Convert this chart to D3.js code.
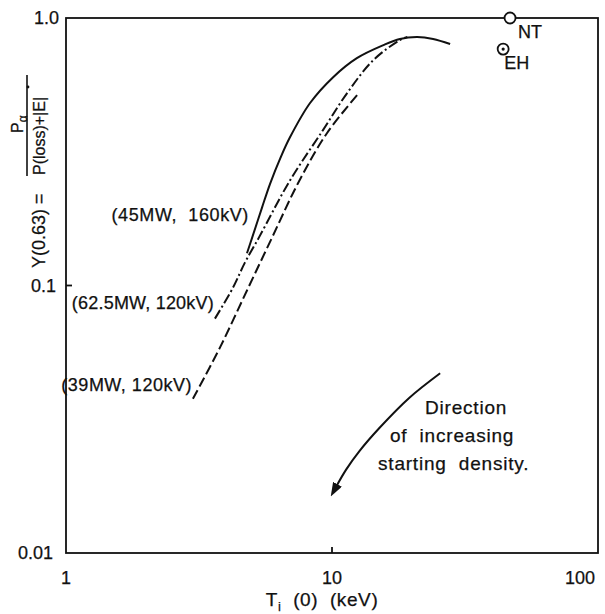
<!DOCTYPE html>
<html lang="en">
<head>
    <meta charset="UTF-8">
    <title>Y(0.63) vs Ti(0)</title>
    <script src="https://d3js.org/d3.v7.min.js"></script>
    <style>
        body { margin: 0; background: #fff; }
        svg text { font-family: "Liberation Sans", Arial, sans-serif; fill: #111; stroke: #111; stroke-width: 0.25; }
        .curve { fill: none; stroke: #111; stroke-width: 2; }
        .frame { fill: none; stroke: #111; stroke-width: 1.8; }
    </style>
</head>
<body>
    <svg width="605" height="614"></svg>
    <script>
        // data (Ti in keV, Y dimensionless)
        var solidT = [4.79, 5.01, 5.46, 5.85, 6.4, 6.95, 8.27, 10.1, 12.4, 15.6, 18.0, 20.9, 24.0, 27.8];
        var solidY = [0.132, 0.151, 0.196, 0.240, 0.300, 0.358, 0.481, 0.601, 0.708, 0.792, 0.835, 0.849, 0.835, 0.799];

        var dashDotT = [3.63, 4.24, 4.71, 5.31, 6.95, 9.25, 11.4, 14.3, 18.0, 19.2];
        var dashDotY = [0.0752, 0.098, 0.122, 0.151, 0.247, 0.381, 0.524, 0.696, 0.827, 0.85];

        var dashedT = [3.0, 3.79, 4.79, 5.95, 7.45, 9.57, 12.7];
        var dashedY = [0.0377, 0.0586, 0.0958, 0.151, 0.241, 0.371, 0.528];

        var pointNames = ["NT", "EH"];
        var pointT = [46.7, 44.0];
        var pointY = [1.0, 0.765];

        // arrow "direction of increasing starting density"
        var arrowT = [25.5, 19.5, 15.1, 12.7, 11.3, 10.4];
        var arrowY = [0.047, 0.038, 0.0294, 0.0241, 0.0205, 0.0178];

        var xTicks = [1, 10, 100];
        var xTickLabels = ["1", "10", "100"];
        var yTicks = [0.01, 0.1, 1];
        var yTickLabels = ["0.01", "0.1", "1.0"];

        var svg = d3.select("svg");
        var pLeft = 66, pRight = 598, pTop = 18, pBottom = 553;

        var x = d3.scaleLog().domain([1, 100]).range([pLeft, pRight]);
        var y = d3.scaleLog().domain([0.01, 1]).range([pBottom, pTop]);

        var zip = function (a, b) { return a.map(function (v, i) { return [v, b[i]]; }); };
        var line = d3.line()
            .x(function (d) { return x(d[0]); })
            .y(function (d) { return y(d[1]); })
            .curve(d3.curveCatmullRom.alpha(0.5));

        // frame
        svg.append("rect").attr("class", "frame")
            .attr("x", pLeft).attr("y", pTop)
            .attr("width", pRight - pLeft).attr("height", pBottom - pTop);

        // inner ticks
        svg.append("line").attr("class", "frame")
            .attr("x1", x(10)).attr("x2", x(10))
            .attr("y1", pBottom).attr("y2", pBottom - 6);
        svg.append("line").attr("class", "frame")
            .attr("x1", pLeft).attr("x2", pLeft + 6)
            .attr("y1", y(0.1)).attr("y2", y(0.1));

        // tick labels
        svg.selectAll(".xtl").data(xTicks).enter().append("text")
            .attr("class", "xtl")
            .attr("x", function (d, i) { return i === 2 ? x(d) - 18 : x(d); })
            .attr("y", 584)
            .attr("text-anchor", "middle")
            .attr("font-size", 18)
            .text(function (d, i) { return xTickLabels[i]; });

        svg.selectAll(".ytl").data(yTicks).enter().append("text")
            .attr("class", "ytl")
            .attr("x", function (d, i) { return i === 0 ? 53 : (i === 1 ? 56 : 59); })
            .attr("y", function (d) { return y(d) + 6; })
            .attr("text-anchor", "end")
            .attr("font-size", 18)
            .text(function (d, i) { return yTickLabels[i]; });

        // x axis title
        var xt = svg.append("text")
            .attr("x", 322).attr("y", 606)
            .attr("text-anchor", "middle")
            .attr("font-size", 19)
            .attr("letter-spacing", 0.6)
            .style("white-space", "pre");
        xt.append("tspan").text("T");
        xt.append("tspan").attr("font-size", 13).attr("dy", 5).text("i");
        xt.append("tspan").attr("dy", -5).text("  (0)  (keV)");

        // y axis title with fraction
        var yt = svg.append("g").attr("transform", "translate(45,268) rotate(-90)");
        yt.append("text").attr("x", 0).attr("y", 0).attr("font-size", 18).text("Y(0.63) =");
        yt.append("text").attr("x", 93).attr("y", 0).attr("font-size", 16)
            .text("P(loss)+|E|");
        // dot over E
        yt.append("circle").attr("cx", 181).attr("cy", -17).attr("r", 1.4).attr("fill", "#111");
        yt.append("line").attr("x1", 92).attr("x2", 193).attr("y1", -18).attr("y2", -18)
            .attr("stroke", "#111").attr("stroke-width", 1.6);
        var num = yt.append("text").attr("x", 135).attr("y", -22).attr("font-size", 16);
        num.append("tspan").text("P");
        num.append("tspan").attr("font-size", 12).attr("dy", 4).text("α");

        // curves
        svg.append("path").datum(zip(solidT, solidY))
            .attr("class", "curve").attr("d", line);
        svg.append("path").datum(zip(dashDotT, dashDotY))
            .attr("class", "curve").attr("stroke-dasharray", "10,3,2,3").attr("d", line);
        svg.append("path").datum(zip(dashedT, dashedY))
            .attr("class", "curve").attr("stroke-dasharray", "10,4").attr("d", line);

        // curve labels
        var lab = [
            { t: "(45MW,  160kV)", x: x(solidT[0]) + 2, y: 221, ls: 0.6 },
            { t: "(62.5MW, 120kV)", x: x(dashDotT[0]) - 1, y: 309, ls: 0.2 },
            { t: "(39MW, 120kV)", x: x(dashedT[0]) - 1, y: 391, ls: 0.5 }
        ];
        svg.selectAll(".clab").data(lab).enter().append("text")
            .attr("class", "clab")
            .attr("x", function (d) { return d.x; })
            .attr("y", function (d) { return d.y; })
            .attr("text-anchor", "end")
            .attr("font-size", 18)
            .attr("letter-spacing", function (d) { return d.ls; })
            .style("white-space", "pre")
            .text(function (d) { return d.t; });

        // experimental points
        svg.selectAll(".pt").data(pointT).enter().append("circle")
            .attr("class", "pt")
            .attr("cx", function (d) { return x(d); })
            .attr("cy", function (d, i) { return y(pointY[i]); })
            .attr("r", 5.5)
            .attr("fill", "#fff").attr("stroke", "#111").attr("stroke-width", 1.8);
        svg.append("circle").attr("cx", x(pointT[1])).attr("cy", y(pointY[1]))
            .attr("r", 1.6).attr("fill", "#111");
        svg.selectAll(".ptl").data(pointNames).enter().append("text")
            .attr("class", "ptl")
            .attr("x", function (d, i) { return x(pointT[i]) + (i === 0 ? 8 : 1); })
            .attr("y", function (d, i) { return y(pointY[i]) + 20; })
            .attr("font-size", 18)
            .text(function (d) { return d; });

        // arrow
        svg.append("defs").append("marker")
            .attr("id", "ah").attr("viewBox", "0 0 14 10")
            .attr("refX", 2).attr("refY", 5)
            .attr("markerWidth", 7).attr("markerHeight", 5)
            .attr("markerUnits", "strokeWidth")
            .attr("orient", "auto")
            .append("path").attr("d", "M0,0 L14,5 L0,10 z").attr("fill", "#111");
        svg.append("path").datum(zip(arrowT, arrowY))
            .attr("class", "curve")
            .attr("marker-end", "url(#ah)")
            .attr("d", line);

        var note = ["Direction", "of  increasing", "starting  density."];
        var noteX = [425, 390, 378];
        svg.selectAll(".note").data(note).enter().append("text")
            .attr("class", "note")
            .attr("x", function (d, i) { return noteX[i]; })
            .attr("y", function (d, i) { return 414 + i * 28; })
            .attr("font-size", 19)
            .attr("letter-spacing", 0.8)
            .style("white-space", "pre")
            .text(function (d) { return d; });
    </script>
</body>
</html>
